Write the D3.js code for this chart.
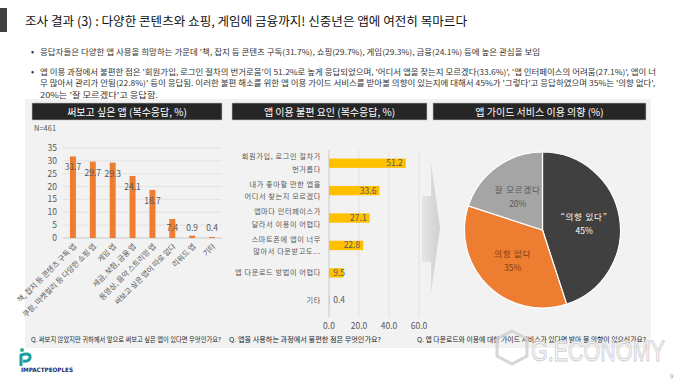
<!DOCTYPE html>
<html><head><meta charset="utf-8">
<script src="https://cdn.jsdelivr.net/npm/d3@7"></script>
<style>
html,body{margin:0;padding:0;background:#fff;}
svg{display:block;font-family:"Noto Sans CJK KR","Noto Sans",sans-serif;}
</style></head>
<body>
<script>
// ---------- data ----------
const titleText = "조사 결과 (3) : 다양한 콘텐츠와 쇼핑, 게임에 금융까지! 신중년은 앱에 여전히 목마르다";
const bullet1 = ["응답자들은 다양한 앱 사용을 희망하는 가운데 '책, 잡지 등 콘텐츠 구독(31.7%), 쇼핑(29.7%), 게임(29.3%), 금융(24.1%) 등에 높은 관심을 보임"];
const bullet2 = [
  "앱 이용 과정에서 불편한 점은 '회원가입, 로그인 절차의 번거로움'이 51.2%로 높게 응답되었으며, '어디서 앱을 찾는지 모르겠다(33.6%)', '앱 인터페이스의 어려움(27.1%)', 앱이 너",
  "무 많아서 관리가 안됨(22.8%)' 등이 응답됨. 이러한 불편 해소를 위한 앱 이용 가이드 서비스를 받아볼 의향이 있는지에 대해서 45%가 '그렇다'고 응답하였으며 35%는 '의향 없다',",
  "20%는 '잘 모르겠다'고 응답함."
];
const headers = ["써보고 싶은 앱 (복수응답, %)", "앱 이용 불편 요인 (복수응답, %)", "앱 가이드 서비스 이용 의향 (%)"];
const questions = [
  "Q. 써보지 않았지만 귀하께서 앞으로 써보고 싶은 앱이 있다면 무엇인가요?",
  "Q. 앱을 사용하는 과정에서 불편한 점은 무엇인가요?",
  "Q. 앱 다운로드와 이용에 대한 가이드 서비스가 있다면 받아 볼 의향이 있으신가요?"
];
const sampleNote = "N=461";

const wantCategories = ["책, 잡지 등 콘텐츠 구독 앱", "쿠팡, 마켓컬리 등 다양한 쇼핑 앱", "게임 앱", "세금, 보험, 금융 앱", "동영상, 음악 스트리밍 앱", "써보고 싶은 앱이 따로 없다", "리워드 앱", "기타"];
const wantValues = [31.7, 29.7, 29.3, 24.1, 18.7, 7.4, 0.9, 0.4];
const wantTicks = [0, 5, 10, 15, 20, 25, 30, 35];

const painCategories = [
  ["회원가입, 로그인 절차가", "번거롭다"],
  ["내가 좋아할 만한 앱을", "어디서 찾는지 모르겠다"],
  ["앱마다 인터페이스가", "달라서 이용이 어렵다"],
  ["스마트폰에 앱이 너무", "많아서 다운받고도..."],
  ["앱 다운로드 방법이 어렵다"],
  ["기타"]
];
const painValues = [51.2, 33.6, 27.1, 22.8, 9.5, 0.4];
const painTicks = [0, 20, 40, 60];

const pieLabels = ["\u201C의향 있다\u201D", "의향 없다", "잘 모르겠다"];
const pieValues = [45, 35, 20];

// ---------- drawing ----------
const W = 680, H = 383;
const svg = d3.select("body").append("svg").attr("width", W).attr("height", H);
const txtCol = "#595959";

// top marker + title
svg.append("rect").attr("x", 0).attr("y", 8).attr("width", 7).attr("height", 24).attr("fill", "#404040");
svg.append("text").attr("x", 25).attr("y", 26).attr("font-size", 12.5).attr("fill", "#111")
  .attr("textLength", 442).attr("lengthAdjust", "spacingAndGlyphs").text(titleText);

// bullets
function bullet(lines, y0, widths) {
  svg.append("text").attr("x", 31).attr("y", y0 + 3).attr("font-size", 9).attr("fill", "#333").text("•");
  lines.forEach((l, i) => {
    svg.append("text").attr("x", 40).attr("y", y0 + 3 + i * 11.3).attr("font-size", 7.6).attr("fill", "#333")
      .attr("textLength", widths[i]).attr("lengthAdjust", "spacingAndGlyphs").text(l);
  });
}
bullet(bullet1, 52, [500]);
bullet(bullet2, 72, [616, 615, 118]);

// gray panel
svg.append("rect").attr("x", 25).attr("y", 99).attr("width", 626).attr("height", 249).attr("fill", "#f2f2f2");

// headers
const hdr = [[32, 222], [232, 427], [433, 646]];
hdr.forEach((h, i) => {
  svg.append("rect").attr("x", h[0]).attr("y", 103).attr("width", h[1] - h[0]).attr("height", 17)
    .attr("fill", "#262626").attr("stroke", "#bfbfbf").attr("stroke-width", 0.6);
  svg.append("text").attr("x", (h[0] + h[1]) / 2).attr("y", 115.5).attr("text-anchor", "middle")
    .attr("font-size", 10).attr("fill", "#fff").text(headers[i]);
});

// ---------- left chart ----------
const g1 = svg.append("g");
g1.append("text").attr("x", 34).attr("y", 131).attr("font-size", 7.5).attr("fill", txtCol).text(sampleNote);
const x1 = d3.scaleBand().domain(wantCategories).range([63, 222]);
const y1 = d3.scaleLinear().domain([0, 35]).range([238, 148]);
g1.selectAll(".gl").data(wantTicks).join("line")
  .attr("x1", 63).attr("x2", 222).attr("y1", d => y1(d)).attr("y2", d => y1(d))
  .attr("stroke", d => d === 0 ? "#bfbfbf" : "#dedede").attr("stroke-width", 0.8);
g1.selectAll(".yl").data(wantTicks).join("text")
  .attr("x", 57).attr("y", d => y1(d)).attr("dy", "0.35em").attr("text-anchor", "end")
  .attr("font-size", 8.5).attr("fill", txtCol).text(d => d);
const bw1 = x1.bandwidth() * 0.3;
g1.selectAll(".b").data(wantValues).join("rect")
  .attr("x", (d, i) => x1(wantCategories[i]) + x1.bandwidth() / 2 - bw1 / 2)
  .attr("y", d => y1(d)).attr("width", bw1).attr("height", d => y1(0) - y1(d)).attr("fill", "#ed7d31");
g1.selectAll(".vl").data(wantValues).join("text")
  .attr("x", (d, i) => x1(wantCategories[i]) + x1.bandwidth() / 2)
  .attr("y", d => Math.min(y1(d) + 11, y1(4)))
  .attr("dy", "0.35em").attr("text-anchor", "middle").attr("font-size", 8.5).attr("fill", txtCol)
  .text(d => d.toFixed(1));
g1.selectAll(".xl").data(wantCategories).join("text")
  .attr("transform", d => `translate(${x1(d) + x1.bandwidth() / 2 + 2},245) rotate(-45)`)
  .attr("text-anchor", "end").attr("dy", "0.35em").attr("font-size", 7.5).attr("fill", txtCol).text(d => d);

// ---------- middle chart ----------
const g2 = svg.append("g");
const x2 = d3.scaleLinear().domain([0, 60]).range([329, 419]);
const y2 = d3.scaleBand().domain(d3.range(painValues.length)).range([149.5, 314]);
g2.selectAll(".gl").data(painTicks).join("line")
  .attr("x1", d => x2(d)).attr("x2", d => x2(d)).attr("y1", 150).attr("y2", 317)
  .attr("stroke", d => d === 0 ? "#bfbfbf" : "#dedede").attr("stroke-width", 0.8);
g2.selectAll(".xl").data(painTicks).join("text")
  .attr("x", d => x2(d)).attr("y", 326).attr("dy", "0.35em").attr("text-anchor", "middle")
  .attr("font-size", 8.5).attr("fill", txtCol).text(d => d.toFixed(1));
const bh2 = y2.bandwidth() * 0.34;
g2.selectAll(".b").data(painValues).join("rect")
  .attr("x", x2(0)).attr("y", (d, i) => y2(i) + y2.bandwidth() / 2 - bh2 / 2)
  .attr("width", d => x2(d) - x2(0)).attr("height", bh2).attr("fill", "#ffc000");
g2.selectAll(".vl").data(painValues).join("text")
  .attr("x", d => Math.max(x2(d) - 3, x2(0) + 16))
  .attr("y", (d, i) => y2(i) + y2.bandwidth() / 2).attr("dy", "0.35em").attr("text-anchor", "end")
  .attr("font-size", 8.5).attr("fill", txtCol).text(d => d.toFixed(1));
painCategories.forEach((lines, i) => {
  const cy = y2(i) + y2.bandwidth() / 2;
  const t = g2.append("text").attr("text-anchor", "end").attr("font-size", 7.2).attr("fill", txtCol)
    .attr("letter-spacing", 0.6);
  lines.forEach((l, j) => {
    t.append("tspan").attr("x", 321).attr("y", cy + (j - (lines.length - 1) / 2) * 12.5).attr("dy", "0.35em").text(l);
  });
});

// arrow (decorative)
const defs = svg.append("defs");
const grad = defs.append("linearGradient").attr("id", "ag").attr("x1", "0").attr("x2", "1").attr("y1", "0").attr("y2", "0");
grad.append("stop").attr("offset", "0").attr("stop-color", "#e6e6e6");
grad.append("stop").attr("offset", "1").attr("stop-color", "#cfcfcf");
svg.append("path")
  .attr("d", "M422,196 L431,196 L431,163 L440,228 L431,293 L431,262 L422,262 Z")
  .attr("fill", "url(#ag)");

// ---------- pie ----------
const cx = 542.5, cy = 230, R = 78;
const pie = d3.pie().sort(null).value(d => d)(pieValues);
const arc = d3.arc().innerRadius(0).outerRadius(R);
const lab = d3.arc().innerRadius(R * 0.54).outerRadius(R * 0.54);
const pieColors = ["#404040", "#ed7d31", "#a5a5a5"];
const pieText = ["#ffffff", "#843c0c", "#595959"];
const g3 = svg.append("g").attr("transform", `translate(${cx},${cy})`);
g3.selectAll("path").data(pie).join("path").attr("d", arc)
  .attr("fill", (d, i) => pieColors[i]).attr("stroke", "#fff").attr("stroke-width", 1.2);
pie.forEach((d, i) => {
  const [px, py] = lab.centroid(d);
  g3.append("text").attr("x", px).attr("y", py - 6).attr("text-anchor", "middle").attr("dy", "0.35em")
    .attr("font-size", 8.5).attr("fill", pieText[i]).attr("letter-spacing", 0.8).text(pieLabels[i]);
  g3.append("text").attr("x", px).attr("y", py + 8).attr("text-anchor", "middle").attr("dy", "0.35em")
    .attr("font-size", 8.5).attr("fill", pieText[i]).text(pieValues[i] + "%");
});

// questions
const qx = [[31, 190], [229, 152], [417, 229]];
questions.forEach((q, i) => {
  svg.append("text").attr("x", qx[i][0]).attr("y", 342).attr("font-size", 6.4).attr("fill", "#262626")
    .attr("textLength", qx[i][1]).attr("lengthAdjust", "spacingAndGlyphs").text(q);
});

// logo
const lg = svg.append("g");
lg.append("circle").attr("cx", 22).attr("cy", 350).attr("r", 2).attr("fill", "#2bb673");
lg.append("path").attr("d", "M21,354 L21,366 M21,355 Q31,352 30,358 Q29,362 23,361")
  .attr("fill", "none").attr("stroke", "#1aa0a0").attr("stroke-width", 3);
lg.append("text").attr("x", 21).attr("y", 372).attr("font-size", 6).attr("font-weight", "bold")
  .attr("fill", "#1f2a6b").attr("font-family", "'Liberation Sans Narrow','DejaVu Sans Condensed',sans-serif")
  .attr("textLength", 52).attr("lengthAdjust", "spacingAndGlyphs").text("IMPACTPEOPLES");

// watermark
const wm = svg.append("g").attr("opacity", 0.85);
wm.append("path").attr("d", "M512,331 L527,339 L527,356 L512,364 L497,356 L497,339 Z")
  .attr("fill", "none").attr("stroke", "#d0d0d0").attr("stroke-width", 3);
wm.append("text").attr("transform", "translate(531,361) scale(1,1.35)").attr("font-size", 21.5)
  .attr("font-family", "'Liberation Sans','DejaVu Sans',sans-serif")
  .attr("fill", "#ffffff").attr("stroke", "#c8c8c8").attr("stroke-width", 0.8)
  .text("G.ECONOMY");
svg.append("text").attr("x", 670).attr("y", 379).attr("font-size", 6).attr("fill", "#999").text("9");
</script>
</body></html>
